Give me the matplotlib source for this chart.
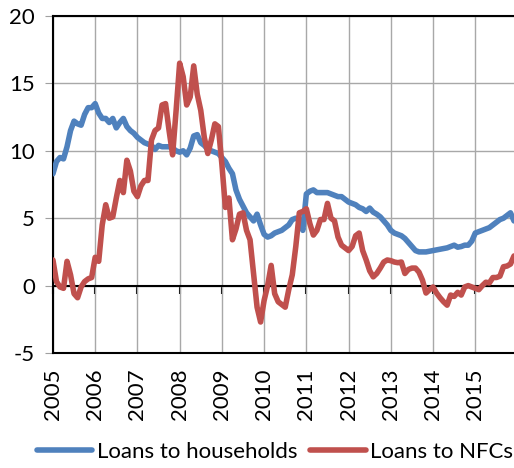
import matplotlib
matplotlib.use("Agg")
import matplotlib.pyplot as plt

plt.rcParams['font.family'] = ['Lato', 'DejaVu Sans']

# monthly growth rates, Jan 2005 .. Dec 2015
households = [
    8.3, 9.2, 9.5, 9.4, 10.3, 11.5, 12.2, 12.0, 11.9, 12.7, 13.2, 13.2,
    13.5, 12.8, 12.4, 12.4, 12.1, 12.4, 11.7, 12.1, 12.4, 11.8, 11.5, 11.3,
    11.0, 10.8, 10.6, 10.5, 10.4, 10.1, 10.4, 10.3, 10.3, 10.3, 10.2, 10.0,
    9.9, 10.0, 9.7, 10.2, 11.1, 11.2, 10.6, 10.4, 10.1, 10.0, 9.9, 9.8,
    9.5, 9.2, 8.7, 8.3, 7.1, 6.4, 5.9, 5.4, 5.1, 4.8, 5.3, 4.5,
    3.8, 3.6, 3.7, 3.9, 4.0, 4.1, 4.3, 4.5, 4.9, 5.0, 4.9, 4.1,
    6.8, 7.0, 7.1, 6.9, 6.9, 6.9, 6.9, 6.8, 6.7, 6.6, 6.6, 6.4,
    6.2, 6.1, 6.0, 5.8, 5.7, 5.5, 5.75, 5.45, 5.3, 5.1, 4.8, 4.5,
    4.1, 3.9, 3.8, 3.7, 3.5, 3.2, 2.9, 2.6, 2.5, 2.5, 2.5, 2.55,
    2.6, 2.65, 2.7, 2.75, 2.8, 2.9, 3.0, 2.85, 2.9, 3.0, 3.0, 3.3,
    3.9, 4.0, 4.1, 4.2, 4.3, 4.5, 4.7, 4.9, 5.0, 5.2, 5.4, 4.8,
]
nfcs = [
    1.9, 0.3, -0.1, -0.2, 1.8, 0.8, -0.6, -0.9, -0.1, 0.3, 0.5, 0.6,
    2.1, 1.8, 4.5, 6.0, 5.0, 5.1, 6.5, 7.8, 6.9, 9.3, 8.5, 7.0,
    6.6, 7.4, 7.8, 7.8, 10.8, 11.5, 11.7, 13.4, 13.5, 11.5, 9.7, 13.0,
    16.5, 15.5, 13.4, 14.0, 16.3, 14.2, 13.0, 11.0, 9.8, 10.8, 12.0, 11.8,
    9.0, 5.8, 6.5, 3.4, 4.2, 5.3, 5.4, 4.1, 3.4, 0.9, -1.6, -2.7,
    -1.1, 0.0, 1.5, -0.6, -1.2, -1.4, -1.6, -0.3, 0.8, 2.9, 5.4, 5.5,
    5.7, 4.6, 3.75, 4.1, 4.9, 4.9, 6.1, 5.0, 4.8, 3.6, 3.0, 2.8,
    2.6, 2.9, 3.7, 3.9, 2.6, 1.9, 1.1, 0.65, 0.9, 1.3, 1.75, 1.9,
    1.85, 1.75, 1.7, 1.75, 0.9, 1.2, 1.3, 1.3, 1.0, 0.4, -0.55, -0.3,
    -0.1, -0.55, -0.9, -1.2, -1.45, -0.7, -0.8, -0.5, -0.7, -0.1, 0.0, -0.1,
    -0.2, -0.3, 0.0, 0.25, 0.2, 0.6, 0.6, 0.7, 1.4, 1.45, 1.6, 2.2,
]
years = [str(y) for y in range(2005, 2016)]
y_ticks = [-5, 0, 5, 10, 15, 20]

BLUE = "#4F81BD"
RED = "#C0504D"
FONT_SIZE = 16

fig = plt.figure(figsize=(5.14, 4.68), dpi=100)
ax = fig.add_axes([0.103, 0.2457, 0.897, 0.7201])

months = range(len(households))
ax.plot(months, households, color=BLUE, lw=4, label="Loans to households",
        solid_joinstyle="round", solid_capstyle="round", zorder=3)
ax.plot(months, nfcs, color=RED, lw=4, label="Loans to NFCs",
        solid_joinstyle="round", solid_capstyle="round", zorder=3)

ax.set_xlim(0, len(households) - 1)
ax.set_ylim(-5, 20)

year_pos = [12 * i for i in range(len(years))]
ax.set_xticks(year_pos)
ax.set_xticklabels(years, rotation=90, fontsize=FONT_SIZE)
ax.tick_params(axis="x", length=0, pad=11)

ax.set_yticks(y_ticks)
ax.set_yticklabels([str(v) for v in y_ticks], fontsize=FONT_SIZE)
ax.tick_params(axis="y", length=6, color="#a0a0a0", pad=7)

ax.grid(True, color="#a8a8a8", lw=1.0)
ax.set_axisbelow(True)

for side in ["left", "top", "bottom"]:
    ax.spines[side].set_color("black")
    ax.spines[side].set_linewidth(1.5)
ax.spines["right"].set_visible(False)

# zero line with year tick marks
ax.axhline(0, color="black", lw=1.5, zorder=2)
zero_axis = ax.secondary_xaxis(0.2)
zero_axis.set_xticks(year_pos)
zero_axis.set_xticklabels([])
zero_axis.tick_params(axis="x", length=6, width=1.5, color="black", direction="out")
zero_axis.spines["bottom"].set_visible(False)

fig.legend(loc="center", bbox_to_anchor=(0.535, 0.034), ncol=2, frameon=False,
           fontsize=FONT_SIZE, handlelength=2.5, handletextpad=0.2, columnspacing=0.6)

plt.savefig("out.png", dpi=100)
